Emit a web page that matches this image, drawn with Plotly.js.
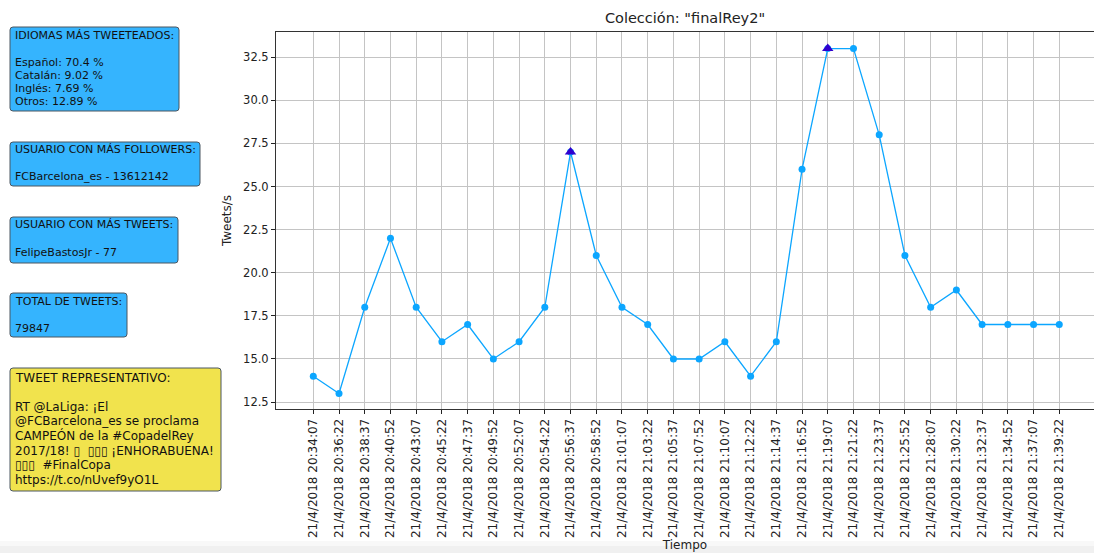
<!DOCTYPE html>
<html>
<head>
<meta charset="utf-8">
<script src="https://cdn.plot.ly/plotly-3.0.1.min.js"></script>
<style>
  html, body { margin: 0; padding: 0; background: #ffffff; }
  #chart { width: 1094px; height: 553px; }
</style>
</head>
<body>
<div id="chart"></div>
<script>
// ---- data ----
const categories = [
  '21/4/2018 20:34:07', '21/4/2018 20:36:22', '21/4/2018 20:38:37', '21/4/2018 20:40:52',
  '21/4/2018 20:43:07', '21/4/2018 20:45:22', '21/4/2018 20:47:37', '21/4/2018 20:49:52',
  '21/4/2018 20:52:07', '21/4/2018 20:54:22', '21/4/2018 20:56:37', '21/4/2018 20:58:52',
  '21/4/2018 21:01:07', '21/4/2018 21:03:22', '21/4/2018 21:05:37', '21/4/2018 21:07:52',
  '21/4/2018 21:10:07', '21/4/2018 21:12:22', '21/4/2018 21:14:37', '21/4/2018 21:16:52',
  '21/4/2018 21:19:07', '21/4/2018 21:21:22', '21/4/2018 21:23:37', '21/4/2018 21:25:52',
  '21/4/2018 21:28:07', '21/4/2018 21:30:22', '21/4/2018 21:32:37', '21/4/2018 21:34:52',
  '21/4/2018 21:37:07', '21/4/2018 21:39:22'
];
const tweetsPerSecond = [14, 13, 18, 22, 18, 16, 17, 15, 16, 18, 27, 21, 18, 17, 15,
                         15, 16, 14, 16, 26, 33, 33, 28, 21, 18, 19, 17, 17, 17, 17];
const peakTimes = ['21/4/2018 20:56:37', '21/4/2018 21:19:07'];
const peakValues = [27, 33];
const yTickValues = [12.5, 15.0, 17.5, 20.0, 22.5, 25.0, 27.5, 30.0, 32.5];

const chartTitle = 'Colección: "finalRey2"';
const xTitle = 'Tiempo';
const yTitle = 'Tweets/s';

const boxIdiomas = ['IDIOMAS MÁS TWEETEADOS:', '', 'Español: 70.4 %', 'Catalán: 9.02 %', 'Inglés: 7.69 %', 'Otros: 12.89 %'];
const boxFollowers = ['USUARIO CON MÁS FOLLOWERS:', '', 'FCBarcelona_es - 13612142'];
const boxTweets = ['USUARIO CON MÁS TWEETS:', '', 'FelipeBastosJr - 77'];
const boxTotal = ['TOTAL DE TWEETS:', '', '79847'];
const boxTweet = ['TWEET REPRESENTATIVO:', '', 'RT @LaLiga: ¡El', '@FCBarcelona_es se proclama',
                  'CAMPEÓN de la #CopadelRey', '2017/18! \u25AF \u00a0\u25AF\u25AF\u25AF ¡ENHORABUENA!',
                  '\u25AF\u25AF\u25AF \u00a0#FinalCopa', 'https://t.co/nUvef9yO1L'];

// ---- layout geometry (pixels) ----
const W = 1094, H = 553;
const M = { l: 276, r: 0, t: 32, b: 144 };
const PW = W - M.l - M.r, PH = H - M.t - M.b;
const px = v => (v - M.l) / PW;
const py = v => (H - M.b - v) / PH;

function roundRect(x0, y0, x1, y1, r) {
  const p = (x, y) => px(x) + ',' + py(y);
  return 'M' + p(x0 + r, y0) + ' L' + p(x1 - r, y0) + ' Q' + p(x1, y0) + ' ' + p(x1, y0 + r) +
         ' L' + p(x1, y1 - r) + ' Q' + p(x1, y1) + ' ' + p(x1 - r, y1) +
         ' L' + p(x0 + r, y1) + ' Q' + p(x0, y1) + ' ' + p(x0, y1 - r) +
         ' L' + p(x0, y0 + r) + ' Q' + p(x0, y0) + ' ' + p(x0 + r, y0) + ' Z';
}

const BLUE = '#35b4fe', YELLOW = '#f1e34d', BORDER = '#4b5661';
const boxes = [
  { lines: boxIdiomas,   rect: [10, 27, 179, 111],  y0: 35.7,  pitch: 13.25, size: 11, fill: BLUE },
  { lines: boxFollowers, rect: [10, 142, 200, 186], y0: 149.5, pitch: 13.6,  size: 11, fill: BLUE },
  { lines: boxTweets,    rect: [10, 217, 178, 263], y0: 224.8, pitch: 13.6,  size: 11, fill: BLUE },
  { lines: boxTotal,     rect: [10, 293, 127, 337], y0: 301.5, pitch: 13.4,  size: 11, fill: BLUE },
  { lines: boxTweet,     rect: [10, 368, 221, 491], y0: 377.5, pitch: 14.6,  size: 12, fill: YELLOW }
];

const shapes = [];
const annotations = [];
boxes.forEach(b => {
  const [x0, y0, x1, y1] = b.rect;
  shapes.push({
    type: 'path', xref: 'paper', yref: 'paper', path: roundRect(x0, y0, x1, y1, 3),
    fillcolor: b.fill, line: { color: BORDER, width: 1 }, layer: 'above'
  });
  b.lines.forEach((t, i) => {
    if (!t) return;
    annotations.push({
      xref: 'paper', yref: 'paper', x: px(13), y: py(b.y0 + i * b.pitch),
      xanchor: 'left', yanchor: 'middle', showarrow: false, text: t,
      font: { family: 'DejaVu Sans', size: b.size, color: '#111111' }
    });
  });
});

// faint shadow at the bottom edge
shapes.push({ type: 'rect', xref: 'paper', yref: 'paper', x0: px(0), x1: px(W), y0: py(546), y1: py(541),
              fillcolor: '#f8f8f8', line: { width: 0 }, layer: 'below' });
shapes.push({ type: 'rect', xref: 'paper', yref: 'paper', x0: px(0), x1: px(W), y0: py(553), y1: py(546),
              fillcolor: '#f0f0f0', line: { width: 0 }, layer: 'below' });

const traces = [
  {
    type: 'scatter', mode: 'lines+markers', x: categories, y: tweetsPerSecond,
    line: { color: '#0ca6ff', width: 1.3 },
    marker: { color: '#0ca6ff', size: 7, symbol: 'circle' },
    hoverinfo: 'x+y', showlegend: false
  },
  {
    type: 'scatter', mode: 'markers', x: peakTimes, y: peakValues,
    marker: { color: '#3000cf', size: 10, symbol: 'triangle-up' },
    showlegend: false
  }
];

const layout = {
  width: W, height: H,
  margin: M,
  paper_bgcolor: '#ffffff', plot_bgcolor: '#ffffff',
  font: { family: 'DejaVu Sans', color: '#222222' },
  showlegend: false,
  title: {
    text: chartTitle, x: 0.5, xref: 'paper', xanchor: 'center',
    y: 1 - 18 / H, yref: 'container', yanchor: 'middle',
    font: { family: 'DejaVu Sans', size: 14.5, color: '#222222' }
  },
  xaxis: {
    type: 'category', categoryorder: 'array', categoryarray: categories,
    range: [-1.45, 30.35], autorange: false,
    tickangle: -90, tickfont: { family: 'DejaVu Sans', size: 12, color: '#222222' },
    ticks: 'outside', ticklen: 4, tickwidth: 1, tickcolor: '#222222',
    showgrid: true, gridcolor: '#c4c4c4', gridwidth: 1,
    showline: true, linecolor: '#333333', linewidth: 1, mirror: true,
    zeroline: false, automargin: false,
    title: { text: xTitle, font: { family: 'DejaVu Sans', size: 12, color: '#222222' }, standoff: 2 }
  },
  yaxis: {
    range: [12.1, 33.96], autorange: false,
    tickvals: yTickValues, tickformat: '.1f',
    tickfont: { family: 'DejaVu Sans', size: 11.5, color: '#222222' },
    ticks: 'outside', ticklen: 4, tickwidth: 1, tickcolor: '#222222',
    showgrid: true, gridcolor: '#c4c4c4', gridwidth: 1,
    showline: true, linecolor: '#333333', linewidth: 1, mirror: false,
    zeroline: false, automargin: false,
    title: { text: yTitle, font: { family: 'DejaVu Sans', size: 12, color: '#222222' }, standoff: 8 }
  },
  shapes: shapes,
  annotations: annotations
};

Plotly.newPlot('chart', traces, layout, { displayModeBar: false, staticPlot: true });
</script>
</body>
</html>
